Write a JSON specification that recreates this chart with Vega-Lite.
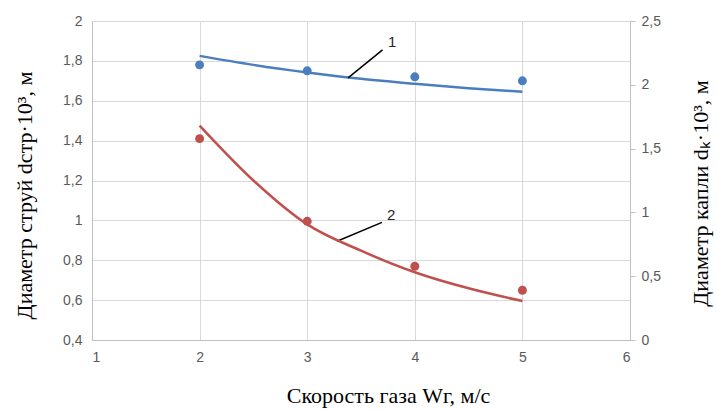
{
  "$schema": "https://vega.github.io/schema/vega-lite/v6.json",
  "width": 538,
  "height": 319,
  "autosize": {"type": "none"},
  "padding": {"left": 92, "top": 21, "right": 87, "bottom": 70},
  "background": "white",
  "config": {
    "view": {"stroke": null},
    "locale": {"number": {"decimal": ",", "thousands": " ", "grouping": [3], "currency": ["", ""]}}
  },
  "datasets": {
    "pts1": [
      {"w": 2, "d": 1.78}, {"w": 3, "d": 1.75}, {"w": 4, "d": 1.72}, {"w": 5, "d": 1.70}
    ],
    "fit1": [
      {"w": 2, "d": 1.825}, {"w": 2.5, "d": 1.78}, {"w": 3, "d": 1.742}, {"w": 3.5, "d": 1.71},
      {"w": 4, "d": 1.685}, {"w": 4.5, "d": 1.663}, {"w": 5, "d": 1.645}
    ],
    "pts2": [
      {"w": 2, "d": 1.578}, {"w": 3, "d": 0.93}, {"w": 4, "d": 0.578}, {"w": 5, "d": 0.39}
    ],
    "fit2": [
      {"w": 2, "d": 1.68}, {"w": 2.5, "d": 1.25}, {"w": 3, "d": 0.906}, {"w": 3.5, "d": 0.70},
      {"w": 4, "d": 0.531}, {"w": 4.5, "d": 0.405}, {"w": 5, "d": 0.305}
    ],
    "leaders": [
      {"id": "1", "x1": 3.38, "y1": 1.715, "x2": 3.70, "y2": 1.855, "lx": 3.79, "ly": 1.895},
      {"id": "2", "x1": 3.277, "y1": 0.895, "x2": 3.695, "y2": 0.99, "lx": 3.78, "ly": 1.025}
    ]
  },
  "layer": [
    {
      "layer": [
        {
          "data": {"name": "pts1"},
          "mark": {"type": "point", "filled": true, "opacity": 1, "size": 80, "color": "#4a7ebf"},
          "encoding": {
            "x": {
              "field": "w", "type": "quantitative",
              "scale": {"domain": [1, 6], "nice": false, "zero": false},
              "axis": {
                "title": "Скорость газа Wг, м/с",
                "titleFont": "Liberation Serif", "titleFontSize": 22, "titleFontWeight": "normal",
                "titleColor": "#000000", "titlePadding": 21, "titleX": 296,
                "labelFont": "Liberation Sans", "labelFontSize": 14, "labelColor": "#595959", "labelPadding": 10,
                "values": [1, 2, 3, 4, 5, 6], "labelOverlap": false, "format": "d",
                "ticks": false, "domainColor": "#bfbfbf",
                "grid": true, "gridColor": "#d9d9d9", "gridWidth": 1
              }
            },
            "y": {
              "field": "d", "type": "quantitative",
              "scale": {"domain": [0.4, 2], "nice": false, "zero": false},
              "axis": {
                "orient": "left",
                "title": "Диаметр  струй dстр·10³, м",
                "titleFont": "Liberation Serif", "titleFontSize": 22, "titleFontWeight": "normal",
                "titleColor": "#000000", "titlePadding": 26, "titleY": 174,
                "labelFont": "Liberation Sans", "labelFontSize": 14, "labelColor": "#595959", "labelPadding": 10,
                "values": [0.4, 0.6, 0.8, 1, 1.2, 1.4, 1.6, 1.8, 2], "labelOverlap": false, "labelSeparation": 0,
                "format": "~g", "tickCount": 9,
                "ticks": false, "domainColor": "#bfbfbf",
                "grid": true, "gridColor": "#d9d9d9", "gridWidth": 1
              }
            }
          }
        },
        {
          "data": {"name": "fit1"},
          "mark": {"type": "line", "color": "#4a7ebf", "strokeWidth": 2.5, "interpolate": "monotone"},
          "encoding": {
            "x": {"field": "w", "type": "quantitative"},
            "y": {"field": "d", "type": "quantitative"}
          }
        },
        {
          "data": {"name": "leaders"},
          "mark": {"type": "rule", "color": "#000000", "strokeWidth": 1.5},
          "encoding": {
            "x": {"field": "x1", "type": "quantitative"},
            "y": {"field": "y1", "type": "quantitative"},
            "x2": {"field": "x2"},
            "y2": {"field": "y2"}
          }
        },
        {
          "data": {"name": "leaders"},
          "mark": {"type": "text", "font": "Liberation Sans", "fontSize": 15, "color": "#262626", "align": "center", "baseline": "middle"},
          "encoding": {
            "x": {"field": "lx", "type": "quantitative"},
            "y": {"field": "ly", "type": "quantitative"},
            "text": {"field": "id"}
          }
        }
      ]
    },
    {
      "layer": [
        {
          "data": {"name": "pts2"},
          "mark": {"type": "point", "filled": true, "opacity": 1, "size": 80, "color": "#c0504d"},
          "encoding": {
            "x": {"field": "w", "type": "quantitative"},
            "y": {
              "field": "d", "type": "quantitative",
              "scale": {"domain": [0, 2.5], "nice": false, "zero": false},
              "axis": {
                "orient": "right",
                "title": "Диаметр  капли dₖ·10³, м",
                "titleFont": "Liberation Serif", "titleFontSize": 22, "titleFontWeight": "normal",
                "titleColor": "#000000", "titlePadding": 52, "titleY": 172,
                "titleAngle": 270, "titleBaseline": "bottom",
                "labelFont": "Liberation Sans", "labelFontSize": 14, "labelColor": "#595959", "labelPadding": 6,
                "values": [0, 0.5, 1, 1.5, 2, 2.5], "labelOverlap": false, "format": "~g",
                "ticks": true, "tickSize": 5, "tickColor": "#bfbfbf", "domainColor": "#bfbfbf",
                "grid": false
              }
            }
          }
        },
        {
          "data": {"name": "fit2"},
          "mark": {"type": "line", "color": "#c0504d", "strokeWidth": 2.5, "interpolate": "monotone"},
          "encoding": {
            "x": {"field": "w", "type": "quantitative"},
            "y": {"field": "d", "type": "quantitative"}
          }
        }
      ]
    }
  ],
  "resolve": {"scale": {"y": "independent"}}
}
